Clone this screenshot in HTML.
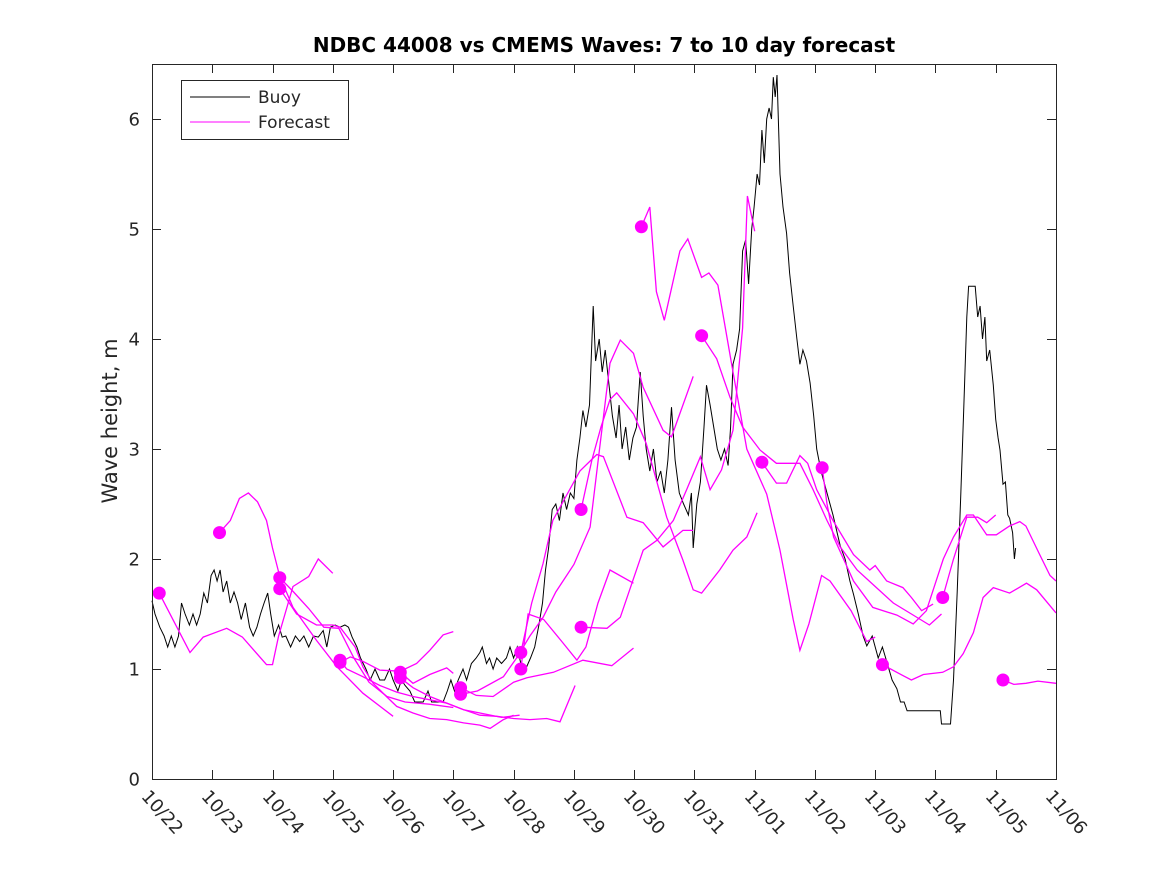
<!DOCTYPE html>
<html><head><meta charset="utf-8"><style>
html,body{margin:0;padding:0;background:#fff;}
svg text{font-family:"DejaVu Sans","Liberation Sans",sans-serif;fill:#262626;}
</style></head><body>
<svg id="chart" width="1167" height="875" viewBox="0 0 1167 875" xmlns="http://www.w3.org/2000/svg">
<rect width="1167" height="875" fill="#fff"/>
<text x="604" y="52" text-anchor="middle" font-size="20" font-weight="bold" style="fill:#000">NDBC 44008 vs CMEMS Waves: 7 to 10 day forecast</text>
<text transform="translate(117,421) rotate(-90)" text-anchor="middle" font-size="21">Wave height, m</text>
<g id="plot"></g>
<g id="axes"></g>
<g>
<rect x="181.5" y="80.5" width="167" height="59" fill="#fff" stroke="#262626" stroke-width="1"/>
<line x1="190" y1="97" x2="250" y2="97" stroke="#000" stroke-width="1"/>
<text x="258" y="103" font-size="17">Buoy</text>
<line x1="190" y1="122" x2="250" y2="122" stroke="#ff00ff" stroke-width="1"/>
<text x="258" y="128" font-size="17">Forecast</text>
</g>
</svg>
<script>
const xTickLabels = ["10/22","10/23","10/24","10/25","10/26","10/27","10/28","10/29","10/30","10/31","11/01","11/02","11/03","11/04","11/05","11/06"];
const yTickValues = [0,1,2,3,4,5,6];
const buoyT = [0,0.05,0.13,0.2,0.26,0.32,0.38,0.44,0.49,0.55,0.62,0.68,0.74,0.8,0.86,0.92,0.98,1.03,1.08,1.13,1.18,1.24,1.3,1.36,1.42,1.48,1.55,1.62,1.68,1.74,1.8,1.86,1.92,1.97,2.03,2.1,2.16,2.22,2.3,2.38,2.45,2.52,2.6,2.68,2.76,2.84,2.9,2.96,3.04,3.12,3.2,3.26,3.32,3.4,3.46,3.55,3.62,3.7,3.78,3.86,3.94,4.0,4.08,4.14,4.2,4.28,4.36,4.5,4.58,4.64,4.83,4.9,4.96,5.02,5.08,5.16,5.22,5.3,5.38,5.44,5.48,5.55,5.6,5.66,5.72,5.8,5.88,5.94,6.0,6.06,6.12,6.2,6.28,6.35,6.42,6.48,6.53,6.58,6.64,6.7,6.76,6.82,6.88,6.94,7.0,7.05,7.1,7.15,7.2,7.26,7.32,7.36,7.42,7.47,7.52,7.58,7.64,7.7,7.75,7.8,7.86,7.92,7.98,8.04,8.1,8.15,8.2,8.26,8.32,8.38,8.44,8.5,8.56,8.62,8.68,8.75,8.82,8.9,8.95,8.98,9.04,9.1,9.16,9.2,9.26,9.32,9.38,9.44,9.5,9.56,9.6,9.64,9.7,9.75,9.8,9.85,9.9,9.95,9.99,10.04,10.08,10.12,10.16,10.2,10.24,10.28,10.31,10.34,10.37,10.42,10.47,10.53,10.58,10.64,10.7,10.75,10.8,10.86,10.92,10.98,11.03,11.1,11.2,11.3,11.42,11.5,11.58,11.64,11.72,11.8,11.86,11.95,12.05,12.12,12.2,12.28,12.36,12.42,12.48,12.53,13.08,13.1,13.25,13.3,13.36,13.42,13.47,13.52,13.55,13.66,13.7,13.74,13.78,13.82,13.85,13.9,13.96,14.0,14.04,14.07,14.12,14.16,14.2,14.23,14.28,14.31,14.33];
const buoyV = [1.62,1.5,1.38,1.3,1.2,1.3,1.2,1.3,1.6,1.5,1.4,1.5,1.4,1.5,1.69,1.6,1.85,1.9,1.8,1.9,1.7,1.8,1.6,1.7,1.6,1.45,1.6,1.38,1.3,1.38,1.5,1.6,1.69,1.5,1.3,1.4,1.29,1.3,1.2,1.3,1.25,1.3,1.2,1.3,1.29,1.35,1.2,1.38,1.4,1.38,1.4,1.38,1.29,1.2,1.1,1.0,0.9,1.0,0.9,0.9,1.0,0.9,0.8,0.9,0.85,0.8,0.7,0.7,0.8,0.7,0.7,0.8,0.9,0.8,0.9,1.0,0.9,1.05,1.1,1.15,1.2,1.05,1.1,1.0,1.1,1.05,1.1,1.2,1.1,1.2,1.05,1.0,1.1,1.2,1.4,1.6,1.9,2.1,2.45,2.5,2.35,2.6,2.45,2.6,2.55,2.9,3.1,3.35,3.2,3.4,4.3,3.8,4.0,3.7,3.9,3.6,3.3,3.1,3.4,3.0,3.2,2.9,3.1,3.2,3.7,3.3,3.0,2.8,3.0,2.7,2.8,2.6,2.9,3.38,2.9,2.6,2.5,2.4,2.6,2.1,2.5,2.7,3.2,3.58,3.4,3.2,3.0,2.9,3.0,2.85,3.2,3.77,3.9,4.09,4.8,4.9,4.5,5.0,5.2,5.5,5.4,5.9,5.6,6.0,6.1,6.0,6.38,6.2,6.4,5.5,5.2,4.96,4.6,4.3,4.0,3.77,3.9,3.8,3.6,3.3,3.0,2.8,2.6,2.4,2.12,2.0,1.8,1.68,1.5,1.3,1.21,1.3,1.1,1.2,1.05,0.9,0.82,0.7,0.7,0.62,0.62,0.5,0.5,0.9,1.7,2.59,3.38,4.2,4.48,4.48,4.2,4.3,4.0,4.2,3.8,3.9,3.58,3.27,3.1,2.99,2.68,2.7,2.4,2.37,2.24,2.0,2.1];
const dotT = [0.12,1.12,2.12,2.12,3.12,3.12,4.12,4.12,5.12,5.12,6.12,6.12,7.12,7.12,8.12,9.12,10.12,11.12,12.12,13.12,14.12];
const dotV = [1.69,2.24,1.83,1.73,1.08,1.06,0.97,0.92,0.83,0.77,1.15,1.0,2.45,1.38,5.02,4.03,2.88,2.83,1.04,1.65,0.9];
const fc1T = [0.12,0.63,0.85,1.24,1.5,1.9,2.0,2.1,2.34,2.6,2.76,3.0];
const fc1V = [1.69,1.15,1.29,1.37,1.29,1.04,1.04,1.3,1.75,1.84,2.0,1.87];
const fc2T = [1.12,1.3,1.45,1.6,1.75,1.9,2.0,2.12,2.34,2.73,3.07,3.5,4.0];
const fc2V = [2.24,2.35,2.55,2.6,2.52,2.35,2.1,1.84,1.56,1.26,1.02,0.78,0.57];
const fc3T = [2.12,2.35,2.6,2.85,3.1,3.35,3.6,3.9,4.2,4.6,5.0];
const fc3V = [1.83,1.7,1.55,1.38,1.37,1.1,0.88,0.75,0.7,0.68,0.65];
const fc4T = [2.12,2.4,2.73,3.0,3.12,3.37,3.5,3.67,3.89,4.06,4.33,4.61,4.89,5.17,5.44,5.61,5.83,6.0];
const fc4V = [1.73,1.5,1.4,1.4,1.38,1.2,1.02,0.87,0.75,0.66,0.6,0.55,0.54,0.51,0.49,0.46,0.54,0.58];
const fc5T = [3.12,3.23,3.5,3.78,4.06,4.33,4.61,4.89,5.17,5.44,5.8,6.1];
const fc5V = [1.08,1.0,0.93,0.85,0.79,0.75,0.72,0.69,0.63,0.6,0.56,0.58];
const fc6T = [3.12,3.29,3.5,3.78,4.12,4.39,4.61,4.83,5.0];
const fc6V = [1.06,1.11,1.07,0.99,0.98,1.05,1.17,1.31,1.34];
const fc7T = [4.12,4.33,4.61,4.89,5.0];
const fc7V = [0.97,0.87,0.95,1.01,0.96];
const fc8T = [4.12,4.33,4.61,4.89,5.17,5.44,5.72,6.0,6.27,6.55,6.77,7.02];
const fc8V = [0.92,0.83,0.75,0.69,0.63,0.58,0.57,0.55,0.54,0.55,0.52,0.85];
const fc9T = [5.12,5.38,5.66,6.0,6.22,6.66,7.15,7.63,7.99];
const fc9V = [0.83,0.76,0.75,0.88,0.92,0.97,1.08,1.03,1.19];
const fc10T = [5.12,5.4,5.83,6.05,6.27,6.49,6.7,7.0,7.27,7.43,7.6,7.77,7.99,8.15,8.48,8.62,8.98];
const fc10V = [0.77,0.8,0.93,1.1,1.3,1.47,1.7,1.95,2.29,3.02,3.78,3.99,3.87,3.56,3.17,3.11,3.66];
const fc11T = [6.12,6.3,6.49,6.65,6.9,7.1,7.38,7.49,7.88,8.15,8.48,8.81,8.98];
const fc11V = [1.15,1.6,1.96,2.35,2.6,2.8,2.95,2.93,2.38,2.33,2.11,2.26,2.26];
const fc12T = [6.12,6.24,6.5,6.8,7.05,7.2,7.4,7.6,7.99];
const fc12V = [1.0,1.5,1.45,1.25,1.08,1.2,1.6,1.9,1.78];
const fc13T = [7.12,7.3,7.45,7.6,7.71,7.99,8.2,8.54,8.81,8.98,9.12,9.42,9.64,9.87,10.04];
const fc13V = [2.45,2.9,3.2,3.45,3.51,3.32,3.05,2.38,1.99,1.72,1.69,1.9,2.08,2.2,2.42];
const fc14T = [7.12,7.55,7.77,8.15,8.38,8.65,8.87,9.1,9.26,9.45,9.64,9.8,9.88,10.0];
const fc14V = [1.38,1.37,1.47,2.08,2.17,2.35,2.63,2.93,2.63,2.81,3.17,4.1,5.3,4.98];
const fc15T = [8.12,8.26,8.37,8.5,8.76,8.89,9.12,9.24,9.39,9.64,9.87,10.2,10.42,10.64,10.75,10.9,11.11,11.25,11.6,11.86,12.0];
const fc15V = [5.02,5.2,4.43,4.17,4.8,4.91,4.56,4.6,4.49,3.7,3.0,2.59,2.08,1.45,1.17,1.41,1.85,1.8,1.53,1.25,1.29];
const fc16T = [9.12,9.37,9.59,9.8,10.09,10.36,10.75,10.97,11.2,11.42,11.7,12.0,12.3,12.6,12.9,13.1];
const fc16V = [4.03,3.82,3.47,3.2,2.99,2.87,2.87,2.63,2.35,2.11,1.9,1.75,1.6,1.5,1.4,1.5];
const fc17T = [10.12,10.36,10.53,10.75,10.88,11.03,11.3,11.64,11.91,12.0,12.19,12.46,12.6,12.77,12.96];
const fc17V = [2.88,2.69,2.69,2.94,2.87,2.63,2.35,2.04,1.9,1.94,1.8,1.74,1.65,1.53,1.59];
const fc18T = [11.12,11.2,11.31,11.64,11.96,12.36,12.63,12.85,13.13,13.3,13.52,13.63,13.85,14.01,14.23,14.4,14.5,14.73,14.9,15.0];
const fc18V = [2.83,2.5,2.2,1.8,1.56,1.49,1.41,1.53,2.0,2.2,2.4,2.4,2.22,2.22,2.3,2.34,2.3,2.04,1.85,1.8];
const fc19T = [12.12,12.46,12.6,12.8,13.12,13.3,13.46,13.63,13.79,13.96,14.23,14.51,14.68,15.0];
const fc19V = [1.04,0.94,0.9,0.95,0.97,1.02,1.14,1.33,1.65,1.74,1.69,1.78,1.72,1.51];
const fc20T = [13.12,13.3,13.52,13.7,13.85,14.0];
const fc20V = [1.65,2.0,2.38,2.38,2.33,2.4];
const fc21T = [14.12,14.3,14.5,14.7,15.0];
const fc21V = [0.9,0.86,0.87,0.89,0.87];

const X0 = 152, X1 = 1056, Y0 = 779, Y1 = 64, NDAYS = 15, YMAX = 6.5;
function xs(t){ return X0 + (X1 - X0) * t / NDAYS; }
function ys(v){ return Y0 - (Y0 - Y1) * v / YMAX; }
const NS = "http://www.w3.org/2000/svg";
const plot = document.getElementById('plot');
const axes = document.getElementById('axes');
function mk(tag, attrs, parent){ const e = document.createElementNS(NS, tag); for (const k in attrs) e.setAttribute(k, attrs[k]); parent.appendChild(e); return e; }
function pts(T, V){ return T.map((t,i)=> xs(t).toFixed(1)+','+ys(V[i]).toFixed(1)).join(' '); }

const fcT = [fc1T,fc2T,fc3T,fc4T,fc5T,fc6T,fc7T,fc8T,fc9T,fc10T,fc11T,fc12T,fc13T,fc14T,fc15T,fc16T,fc17T,fc18T,fc19T,fc20T,fc21T];
const fcV = [fc1V,fc2V,fc3V,fc4V,fc5V,fc6V,fc7V,fc8V,fc9V,fc10V,fc11V,fc12V,fc13V,fc14V,fc15V,fc16V,fc17V,fc18V,fc19V,fc20V,fc21V];

const bl = mk('polyline', {points: pts(buoyT, buoyV), fill:'none', stroke:'#000', 'stroke-width':'1', 'stroke-linejoin':'miter'}, plot);


fcT.forEach((T, i) => {
  const pl = mk('polyline', {points: pts(T, fcV[i]), fill:'none', stroke:'#ff00ff', 'stroke-width':'1.3'}, plot);
  
  
});
dotT.forEach((t, i) => {
  const c = mk('circle', {cx: xs(t), cy: ys(dotV[i]), r: 6.5, fill:'#ff00ff'}, plot);
  
  
});

const box = mk('rect', {x: X0+0.5, y: Y1+0.5, width: X1-X0, height: Y0-Y1, fill:'none', stroke:'#262626', 'stroke-width':'1'}, axes);


yTickValues.forEach(v => {
  const y = Math.round(ys(v)) + 0.5;
  const t1 = mk('line', {x1: X0, y1: y, x2: X0+9, y2: y, stroke:'#262626'}, axes);
  
  
  const t2 = mk('line', {x1: X1-9, y1: y, x2: X1, y2: y, stroke:'#262626'}, axes);
  
  
  const lb = mk('text', {x: X0-12, y: y+6, 'text-anchor':'end', 'font-size':'18'}, axes);
  lb.textContent = String(v);
  
  
});
xTickLabels.forEach((s, i) => {
  const x = Math.round(xs(i)) + 0.5;
  const t1 = mk('line', {x1: x, y1: Y0, x2: x, y2: Y0-9, stroke:'#262626'}, axes);
  
  
  const t2 = mk('line', {x1: x, y1: Y1, x2: x, y2: Y1+9, stroke:'#262626'}, axes);
  
  
  const lb = mk('text', {x: 0, y: 0, 'font-size':'18', transform: 'translate(' + (x-12) + ',' + 797 + ') rotate(48)'}, axes);
  lb.textContent = s;
  
  
});
</script>
</body></html>
